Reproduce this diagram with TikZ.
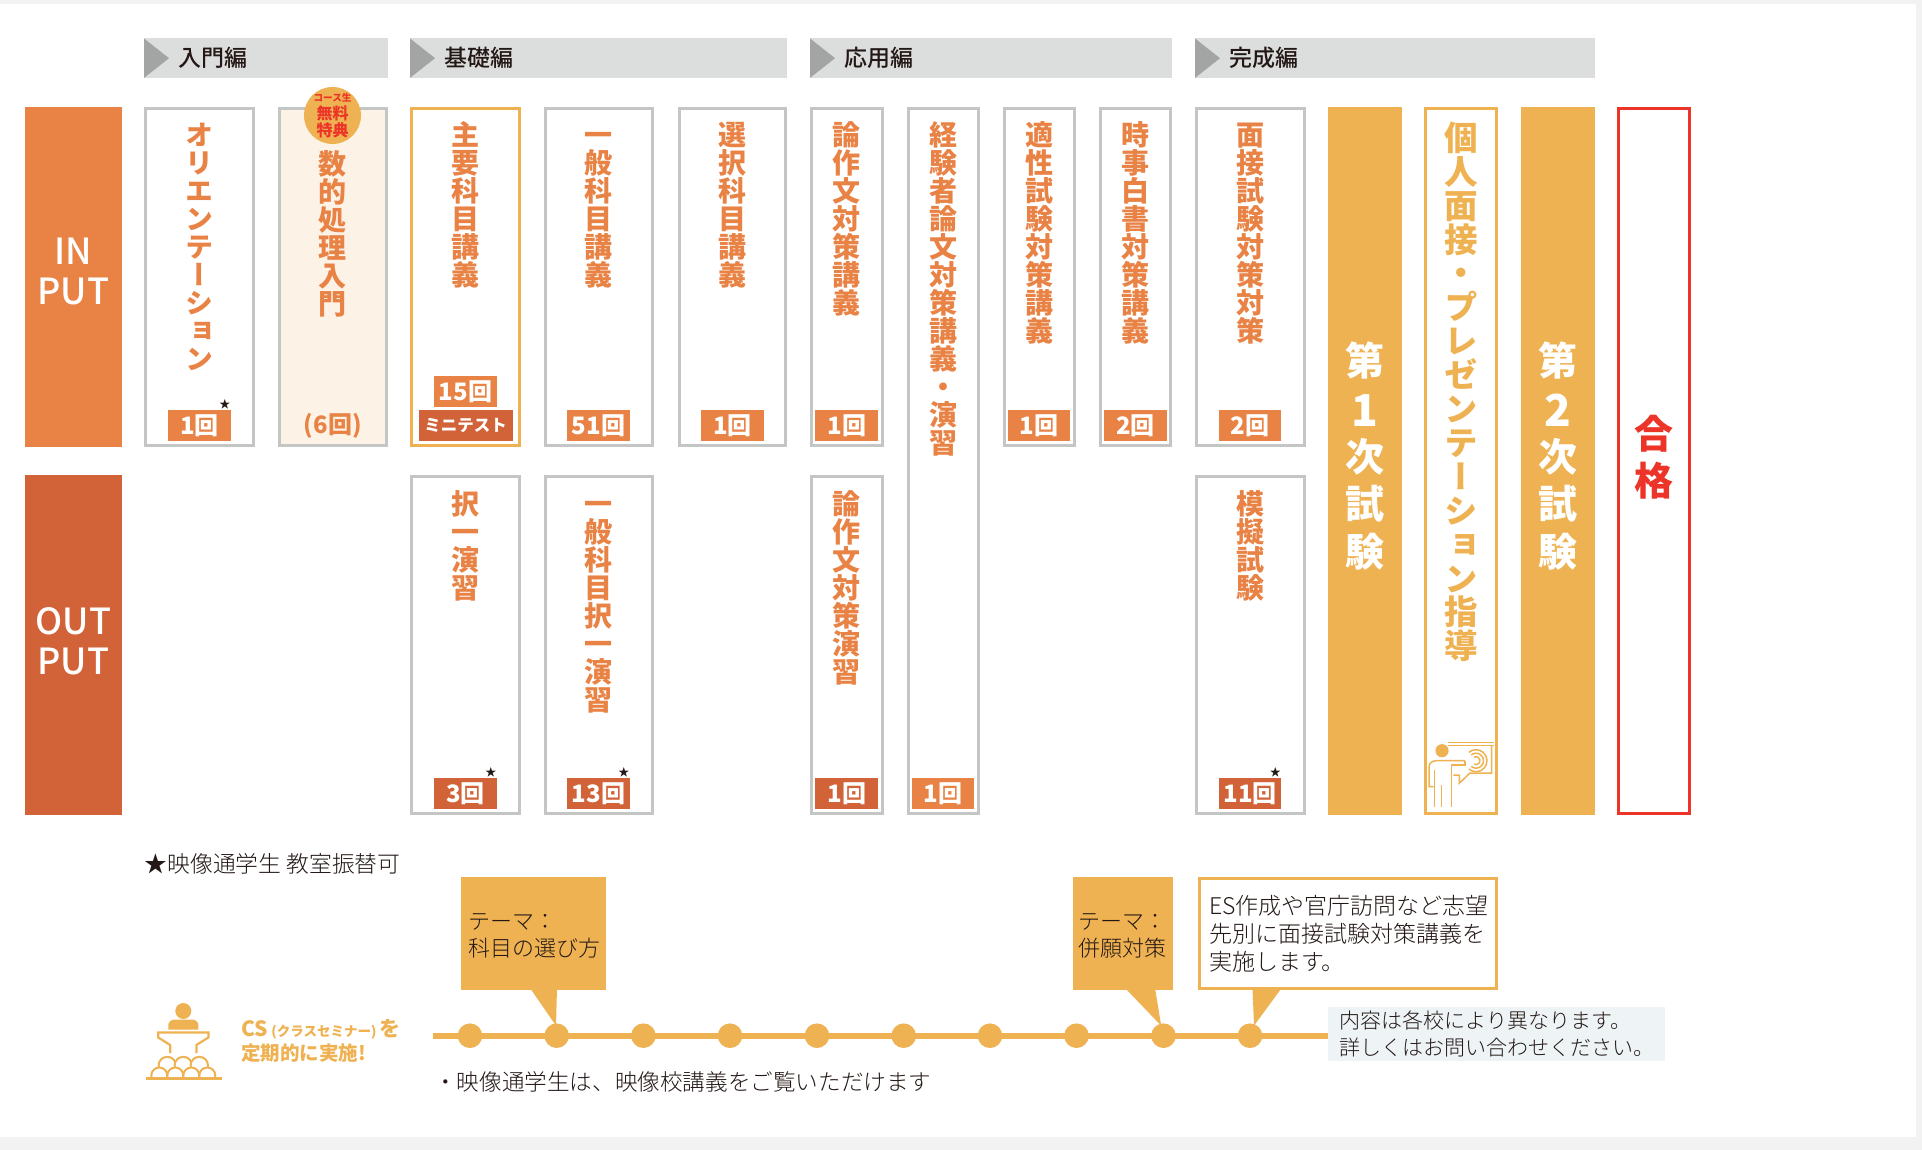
\documentclass[tikz,border=0pt]{standalone}
\usepackage{fontspec}
\usetikzlibrary{calc}
\setmainfont{Noto Sans CJK JP}
\newfontfamily\vfnt[RawFeature={+vert}]{Noto Sans CJK JP Black}
\newfontfamily\ltfnt{Noto Sans CJK JP Light}
\newfontfamily\mdfnt{Noto Sans CJK JP Medium}
\definecolor{org}{HTML}{E98345}
\definecolor{dorg}{HTML}{D26237}
\definecolor{yel}{HTML}{EFB252}
\definecolor{gbd}{HTML}{C4C5C5}
\definecolor{hband}{HTML}{DCDDDD}
\definecolor{htri}{HTML}{A3A5A5}
\definecolor{cream}{HTML}{FDF2E6}
\definecolor{redc}{HTML}{EC3428}
\definecolor{ink}{HTML}{231815}
\definecolor{notec}{HTML}{EEF4F6}
\definecolor{pagegray}{HTML}{F2F2F2}
\makeatletter
\newcommand\vst[3]{\fontsize{#1}{#1}\selectfont\vtop{\offinterlineskip\@tfor\vc:=#3\do{\vbox to #2pt{\vss\hbox to #1pt{\hss\rule[-.12em]{0pt}{1em}\smash{\vc}\hss}\vss}}}}
\makeatother
\newcommand\bigd[1]{{\fontsize{44}{44}\selectfont\raisebox{-3pt}{#1}}}
\tikzset{
  base/.style={rectangle,inner sep=0pt,outer sep=0pt,line width=3pt},
  graybox/.style={base,draw=gbd,fill=white},
  creambox/.style={base,draw=gbd,fill=cream},
  yelbox/.style={base,draw=yel,fill=white},
  yelfill/.style={base,draw=yel,fill=yel},
  redbox/.style={base,draw=redc,fill=white,line width=3.5pt},
  inbox/.style={base,draw=org,fill=org},
  outbox/.style={base,draw=dorg,fill=dorg},
  band/.style={rectangle,inner sep=0pt,outer sep=0pt,fill=hband},
  head/.style={inner sep=0pt,anchor=west,text=ink,font=\mdfnt\fontsize{23}{23}\selectfont},
  vlab/.style={inner sep=0pt,anchor=north,font=\vfnt},
  bigin/.style={inner sep=0pt,text=white,align=center,font=\mdfnt\fontsize{36}{40}\selectfont},
  bdg/.style={rectangle,inner sep=0pt,outer sep=0pt,minimum height=31pt,minimum width=62.5pt,text=white,font=\bfseries\fontsize{24}{24}\selectfont},
  starm/.style={inner sep=0pt,text=ink,font=\fontsize{11}{11}\selectfont},
  body/.style={inner sep=0pt,anchor=west,align=left,text=ink},
  dot/.style={circle,fill=yel,inner sep=0pt,outer sep=0pt,minimum size=24.6pt},
  icon/.style={draw=yel,line width=2.2pt},
  iconthin/.style={draw=yel,line width=1.5pt},
}
\newcommand\colb[6]{\pgfmathsetmacro\cw{#4-#2-3}\pgfmathsetmacro\ch{#5-#3-3}\pgfmathsetmacro\ccx{(#2+#4)/2}\pgfmathsetmacro\ccy{(#3+#5)/2}\node[#6,minimum width=\cw pt,minimum height=\ch pt] (#1) at (\ccx,\ccy) {};}
\newcommand\hdr[4]{\pgfmathsetmacro\cw{#3-#2}\node[band,minimum width=\cw pt,minimum height=39.5pt,anchor=west] (#1) at (#2,58.2) {};
  \fill[htri] (#1.north west) -- ($(#1.west)+(25,0)$) -- (#1.south west) -- cycle;
  \node[head] (#1t) at ($(#1.west)+(34,0)$) {#4};}
\newcommand\vl[7]{\node[vlab,text=#4] (#1) at ([yshift=-#3pt]#2.north) {\vst{#5}{#6}{#7}};}
\begin{document}
\begin{tikzpicture}[x=1pt,y=-1pt]
\useasboundingbox (0,0) rectangle (1922,1150);
\fill[pagegray] (0,0) rectangle (1922,1150);
\fill[white] (0,4) rectangle (1916,1137);
% headers
\hdr{h1}{144}{388}{入門編}
\hdr{h2}{410}{787}{基礎編}
\hdr{h3}{810}{1172}{応用編}
\hdr{h4}{1195}{1595}{完成編}
% left bars
\colb{inb}{25}{107}{122}{447}{inbox}
\colb{outb}{25}{475}{122}{815}{outbox}
\node[bigin] (inl) at (73.5,271) {IN\\PUT};
\node[bigin] (outl) at (73.5,641) {OUT\\PUT};
% top row
\colb{b1}{144}{107}{255}{447}{graybox}
\colb{b2}{277.5}{107}{388}{447}{creambox}
\colb{b3}{410}{107}{521}{447}{yelbox}
\colb{b4}{543.5}{107}{653.5}{447}{graybox}
\colb{b5}{678}{107}{787}{447}{graybox}
\colb{b6}{810}{107}{883.5}{447}{graybox}
\colb{b7}{906.5}{107}{979.5}{815}{graybox}
\colb{b8}{1002.5}{107}{1076}{447}{graybox}
\colb{b9}{1099}{107}{1172}{447}{graybox}
\colb{b10}{1195}{107}{1305.5}{447}{graybox}
\colb{b11}{1328}{107}{1402}{815}{yelfill}
\colb{b12}{1424}{107}{1498}{815}{yelbox}
\colb{b13}{1521}{107}{1595}{815}{yelfill}
\colb{b14}{1617}{107}{1691}{815}{redbox}
% bottom row
\colb{c3}{410}{475}{521}{815}{graybox}
\colb{c4}{543.5}{475}{653.5}{815}{graybox}
\colb{c6}{810}{475}{883.5}{815}{graybox}
\colb{c10}{1195}{475}{1305.5}{815}{graybox}
% vertical labels
\vl{t1}{b1}{12.5}{org}{28}{28}{オリエンテーション}
\vl{t2}{b2}{41.5}{org}{28}{28}{数的処理入門}
\vl{t3}{b3}{12.5}{org}{28}{28}{主要科目講義}
\vl{t4}{b4}{12.5}{org}{28}{28}{一般科目講義}
\vl{t5}{b5}{12.5}{org}{28}{28}{選択科目講義}
\vl{t6}{b6}{12.5}{org}{28}{28}{論作文対策講義}
\vl{t7}{b7}{12.5}{org}{28}{28}{経験者論文対策講義・演習}
\vl{t8}{b8}{12.5}{org}{28}{28}{適性試験対策講義}
\vl{t9}{b9}{12.5}{org}{28}{28}{時事白書対策講義}
\vl{t10}{b10}{12.5}{org}{28}{28}{面接試験対策対策}
\vl{t11}{b11}{228.5}{white}{39}{47.6}{第{\bigd{1}}次試験}
\vl{t12}{b12}{12}{yel}{33.5}{33.9}{個人面接・プレゼンテーション指導}
\vl{t13}{b13}{228.5}{white}{39}{47.6}{第{\bigd{2}}次試験}
\vl{t14}{b14}{300.8}{redc}{39}{47.5}{合格}
\vl{u3}{c3}{13}{org}{28}{28}{択一演習}
\vl{u4}{c4}{13}{org}{28}{28}{一般科目択一演習}
\vl{u6}{c6}{13}{org}{28}{28}{論作文対策演習}
\vl{u10}{c10}{13}{org}{28}{28}{模擬試験}
% free badge
\node[circle,fill=yel,inner sep=0pt,minimum size=57pt] (free) at (332.5,115.5) {};
\node[inner sep=0pt,text=redc,font=\bfseries\fontsize{9.6}{9.6}\selectfont] (free1) at (332.5,98) {コース生};
\node[inner sep=0pt,text=redc,font=\bfseries\fontsize{16}{16}\selectfont] (free2) at (332.5,113.5) {無料};
\node[inner sep=0pt,text=redc,font=\bfseries\fontsize{16}{16}\selectfont] (free3) at (332.5,130) {特典};
% count badges
\node[bdg,fill=org] (n1) at (199.5,425.5) {1回};
\node[inner sep=0pt,text=org,font=\bfseries\fontsize{24}{24}\selectfont] (n2) at (332.7,425.5) {(6回)};
\node[bdg,fill=org] (n3) at (465.5,391.5) {15回};
\node[bdg,fill=dorg,minimum width=94pt,font=\bfseries\fontsize{16.5}{16.5}\selectfont] (n3b) at (465.5,425.5) {ミニテスト};
\node[bdg,fill=org] (n4) at (598.5,425.5) {51回};
\node[bdg,fill=org] (n5) at (732.5,425.5) {1回};
\node[bdg,fill=org] (n6) at (846.7,425.5) {1回};
\node[bdg,fill=org] (n8) at (1039.2,425.5) {1回};
\node[bdg,fill=org] (n9) at (1135.5,425.5) {2回};
\node[bdg,fill=org] (n10) at (1250.2,425.5) {2回};
\node[bdg,fill=dorg] (m3) at (465.5,793.5) {3回};
\node[bdg,fill=dorg] (m4) at (598.5,793.5) {13回};
\node[bdg,fill=dorg] (m6) at (846.7,793.5) {1回};
\node[bdg,fill=org] (m7) at (943,793.5) {1回};
\node[bdg,fill=dorg] (m10) at (1250.2,793.5) {11回};
% stars
\node[starm] (s1) at ($(n1.north east)+(-6,-6)$) {★};
\node[starm] (s3) at ($(m3.north east)+(-6,-6)$) {★};
\node[starm] (s4) at ($(m4.north east)+(-6,-6)$) {★};
\node[starm] (s10) at ($(m10.north east)+(-6,-6)$) {★};
% presenter icon
\fill[yel] (1442,750.7) circle (6.6);
\draw[iconthin] (1448,742.7) -- (1494,742.7) (1448,745.7) -- (1494,745.7);
\draw[iconthin] (1491.7,745.7) -- (1491.7,773) -- (1470,773) -- (1459.3,783.3) -- (1459.3,775) -- (1453.3,775);
\draw[iconthin] (1465,760.7) -- (1436,760.7) to[out=180,in=90] (1429,767) -- (1429,786.7) -- (1433.5,786.7);
\draw[iconthin] (1465,760.7) -- (1465,765) -- (1451.7,765) -- (1451.7,806.7);
\draw[iconthin] (1434.3,770) -- (1434.3,806.7) (1441.7,785) -- (1441.7,806.7);
\draw[iconthin] (1476,760.7)++(130:11) arc (130:-130:11);
\draw[iconthin] (1476,760.7)++(130:7.5) arc (130:-130:7.5);
\draw[iconthin] (1476,760.7)++(120:4) arc (120:-120:4);
% star note
\node[body,font=\ltfnt\fontsize{22.8}{22.8}\selectfont] (note0) at (144.5,863.5) {★映像通学生 教室振替可};
% timeline
\node[rectangle,fill=notec,inner sep=0pt,outer sep=0pt,minimum width=337pt,minimum height=54pt,anchor=west] (note) at (1328,1034) {};
\coordinate (tls) at (433,1035.7);
\coordinate (tle) at (1328,1035.7);
\draw[yel,line width=6pt] (tls) -- (tle);
\foreach \i/\x in {1/470,2/556.7,3/643.4,4/730,5/817,6/903.7,7/990,8/1076.5,9/1163.5,10/1250}{
  \node[dot] (d\i) at (\x,1035.7) {};
}
% callouts
\fill[yel] (461,877) rectangle (606,990);
\fill[yel] (530,988) -- (557,988) -- ($(d2.center)+(-0.7,-10)$) -- cycle;
\node[body,font=\ltfnt\fontsize{22}{27.5}\selectfont] (co1t) at (468.5,936) {テーマ：\\科目の選び方};
\fill[yel] (1073,877) rectangle (1172.5,990);
\fill[yel] (1125,988) -- (1155,988) -- ($(d9.center)+(-2.3,-10)$) -- cycle;
\node[body,font=\ltfnt\fontsize{22}{27.5}\selectfont] (co2t) at (1078,936) {テーマ：\\併願対策};
\fill[yel] (1252.5,988) -- (1281.6,988) -- ($(d10.center)+(4,-10)$) -- cycle;
\node[rectangle,draw=yel,fill=white,line width=3pt,inner sep=0pt,outer sep=0pt,minimum width=297pt,minimum height=110pt] (co3) at (1348,933.5) {};
\node[body,font=\ltfnt\fontsize{23}{28}\selectfont] (co3t) at (1209,934) {ES作成や官庁訪問など志望\\先別に面接試験対策講義を\\実施します。};
\node[body,font=\ltfnt\fontsize{21}{27}\selectfont] (notet) at (1339.5,1033.5) {内容は各校により異なります。\\詳しくはお問い合わせください。};
\node[body,font=\ltfnt\fontsize{22.6}{22.6}\selectfont] (under) at (434,1082) {・映像通学生は、映像校講義をご覧いただけます};
% CS text
\node[inner sep=0pt,anchor=west,text=yel,font=\bfseries\fontsize{21}{21}\selectfont] (cs1) at (241,1029) {CS\,{\fontsize{13.5}{13.5}\selectfont (クラスセミナー)}\,を};
\node[inner sep=0pt,anchor=west,text=yel,font=\bfseries\fontsize{19.5}{19.5}\selectfont] (cs2) at (241,1053) {定期的に実施!};
% seminar icon
\fill[yel] (183.3,1011) circle (8);
\fill[yel] (168.3,1029.5) -- (168.3,1025) to[out=90,in=180] (175,1019.5) -- (191.6,1019.5) to[out=0,in=90] (198.3,1025) -- (198.3,1029.5) -- cycle;
\draw[icon,line cap=butt] (170.2,1053) -- (170.2,1045) -- (158.2,1037.5) -- (158.2,1032.5) -- (208.4,1032.5) -- (208.4,1037.5) -- (196.4,1045) -- (196.4,1053);
\foreach \c in {167.3,183.3,199.3}{\draw[icon,line width=2pt,fill=white] (\c,1065.5) circle (8.7);}
\foreach \c in {159.3,175.3,191.3,207.3}{\draw[icon,line width=2pt,fill=white] (\c,1075.5) circle (8);}
\fill[white] (145,1079) rectangle (222,1090);
\fill[yel] (145.5,1076.7) rectangle (221.7,1080);
\end{tikzpicture}
\end{document}
